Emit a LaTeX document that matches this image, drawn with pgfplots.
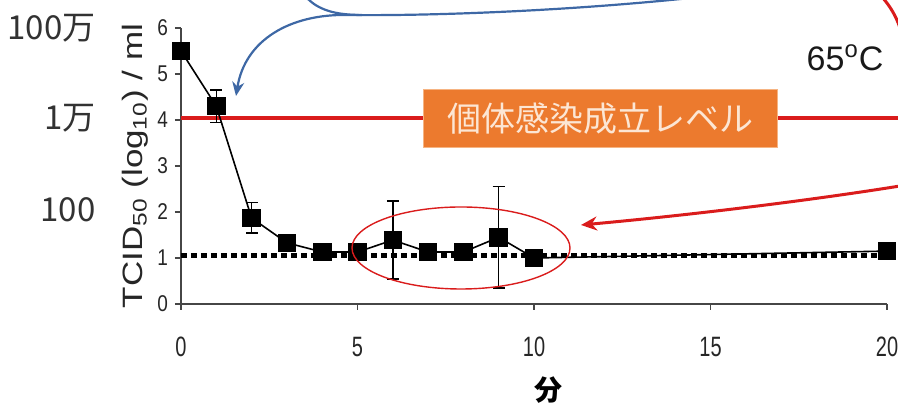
\documentclass[border=0pt]{standalone}
\usepackage{pgfplots}
\pgfplotsset{compat=1.18}
\usepackage{fontspec}
\usepackage{graphicx}
\usetikzlibrary{arrows.meta}
\setmainfont{Liberation Sans}
\newfontfamily\jp{Noto Sans CJK JP}
\newcommand{\vs}[2][1.3]{\scalebox{1}[#1]{#2}}
\definecolor{axgray}{RGB}{70,70,70}
\definecolor{lvred}{RGB}{218,28,28}
\definecolor{boxorange}{RGB}{236,122,46}
\definecolor{boxedge}{RGB}{246,180,130}
\definecolor{cream}{RGB}{252,230,212}
\definecolor{arrblue}{RGB}{62,104,165}
\definecolor{jpgray}{RGB}{50,50,50}
\begin{document}
\begin{tikzpicture}
\begin{axis}[
  scale only axis, width=353pt, height=138pt,
  xmin=0, xmax=20, ymin=0, ymax=6,
  axis lines=left,
  x axis line style={-}, y axis line style={-},
  axis line style={axgray, line width=0.8pt},
  tick align=outside, major tick length=3pt,
  tick style={axgray, line width=0.8pt},
  xtick={0,5,10,15,20}, ytick={0,1,2,3,4,5,6},
  xticklabels={\vs[1.4]{0},\vs[1.4]{5},\vs[1.4]{10},\vs[1.4]{15},\vs[1.4]{20}},
  yticklabels={\vs[1.2]{0},\vs[1.2]{1},\vs[1.2]{2},\vs[1.2]{3},\vs[1.2]{4},\vs[1.2]{5},\vs[1.2]{6}},
  x tick label style={font=\fontsize{10}{12}\selectfont, text=black!85, yshift=-10pt},
  y tick label style={font=\fontsize{9.5}{11}\selectfont, text=black!85},
  ylabel={\scalebox{1.25}[1]{TCID\textsubscript{50} (log\textsubscript{10}) / ml}},
  ylabel style={font=\fontsize{14}{16}\selectfont, at={(axis description cs:-0.065,0.5)}, anchor=center, text=black!85},
  xlabel={\jp\bfseries 分},
  xlabel style={font=\fontsize{14}{16}\selectfont, at={(axis description cs:0.52,-0.312)}, anchor=center},
  clip=false,
]
% infection threshold level
\addplot[lvred, line width=2pt, forget plot] coordinates {(0,4.05) (20.31,4.05)};
% detection limit
\addplot[black, line width=2.5pt, dash pattern=on 3pt off 2pt, forget plot] coordinates {(0,1.05) (20,1.05)};
% data
\addplot[black, line width=0.8pt, mark=square*, mark size=4.25pt, mark options={solid},
  error bars/.cd, y dir=both, y explicit,
  error bar style={line width=0.7pt, black},
  error mark options={rotate=90, mark size=3pt, line width=0.7pt, black}]
coordinates {
(0,5.5) +- (0,0.05)
(1,4.3) +- (0,0.35)
(2,1.87) +- (0,0.33)
(3,1.33) +- (0,0.12)
(4,1.13) +- (0,0.15)
(5,1.13) +- (0,0.15)
(6,1.39) +- (0,0.85)
(7,1.13) +- (0,0.15)
(8,1.13) +- (0,0.15)
(9,1.45) +- (0,1.1)
(10,1.0) +- (0,0.08)
(20,1.15) +- (0,0.12)
};
\end{axis}
\begin{scope}[x=0.5pt, y=-0.5pt, shift={(-181,-304)}]
  % left Japanese labels
  \node[anchor=east, text=jpgray, font=\jp\fontsize{16.5}{19}\selectfont, inner sep=0] at (96,28) {100万};
  \node[anchor=east, text=jpgray, font=\jp\fontsize{16.5}{19}\selectfont, inner sep=0] at (96,118) {1万};
  \node[anchor=east, text=jpgray, font=\jp\fontsize{16.5}{19}\selectfont, inner sep=0] at (96,210) {100};
  % 65 C
  \node[font=\fontsize{17}{20}\selectfont, text=black!90, inner sep=0] at (845,58) {65\textsuperscript{o}C};
  % orange label box
  \node[fill=boxorange, draw=boxedge, line width=0.5pt, minimum width=177pt, minimum height=29pt,
        text=cream, font=\jp\fontsize{17}{20}\selectfont, inner sep=0] at (600,119) {個体感染成立レベル};
  % red ellipse
  \draw[lvred, line width=0.7pt] (461,248) ellipse [x radius=109, y radius=41];
  % red arrow from right
  \draw[lvred, line width=1.5pt, -{Stealth[length=8pt, width=7pt]}] (900,186) .. controls (800,202) and (680,216) .. (581,225);
  % red arc top right
  \draw[lvred, line width=1.5pt] (882,-3) .. controls (890,6) and (896,16) .. (900,28);
  % blue arrow
  \draw[arrblue, line width=1.1pt, -{Stealth[length=7pt, width=6pt]}] (700,-3) .. controls (560,12) and (420,16) .. (347,15) .. controls (290,14) and (245,40) .. (236,96);
  \draw[arrblue, line width=1.1pt] (306,-3) .. controls (318,10) and (335,15) .. (362,15);
\end{scope}
\pgfresetboundingbox
\begin{scope}[x=0.5pt, y=-0.5pt, shift={(-181,-304)}]
  \path[use as bounding box] (0,0) rectangle (898,410);
\end{scope}
\end{tikzpicture}
\end{document}
